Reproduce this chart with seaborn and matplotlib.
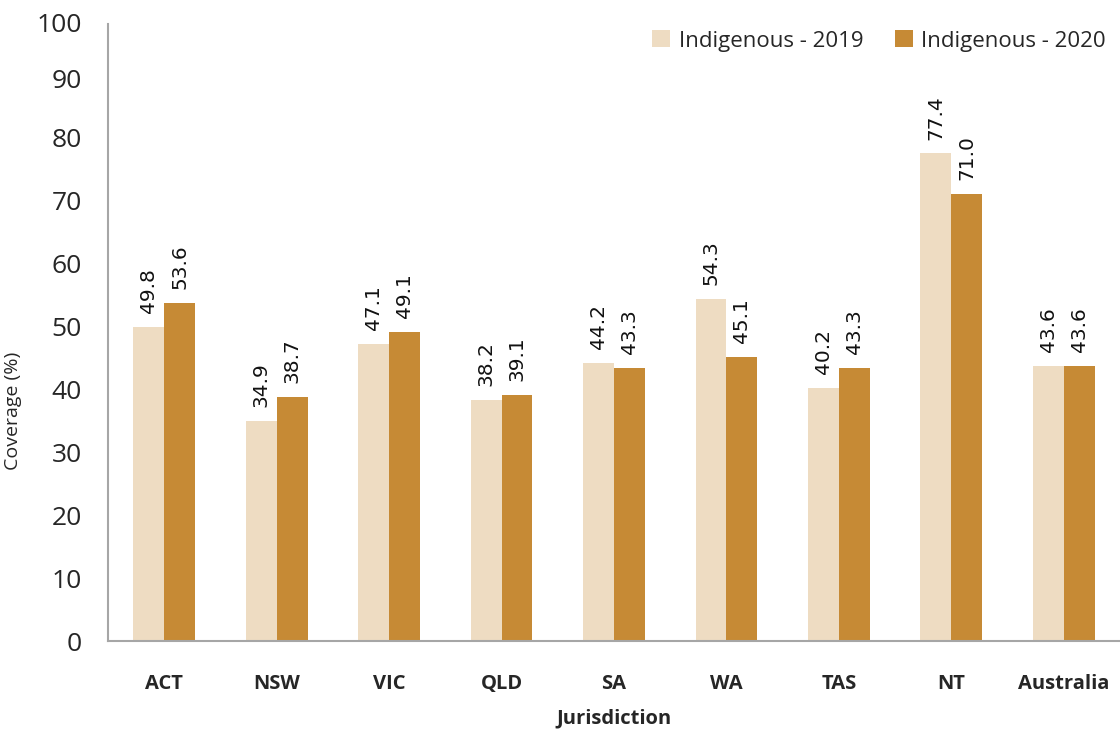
import matplotlib
matplotlib.use("Agg")
import matplotlib.pyplot as plt
import matplotlib.transforms as mtransforms
import seaborn as sns
import pandas as pd

categories = ["ACT", "NSW", "VIC", "QLD", "SA", "WA", "TAS", "NT", "Australia"]
values_2019 = [49.8, 34.9, 47.1, 38.2, 44.2, 54.3, 40.2, 77.4, 43.6]
values_2020 = [53.6, 38.7, 49.1, 39.1, 43.3, 45.1, 43.3, 71.0, 43.6]
series = ["Indigenous - 2019", "Indigenous - 2020"]
colors = ["#EEDCC2", "#C68A35"]

df = pd.DataFrame({
    "Jurisdiction": categories * 2,
    "Coverage": values_2019 + values_2020,
    "Series": [series[0]] * len(categories) + [series[1]] * len(categories),
})

sns.set_style("white")
plt.rcParams["font.family"] = ["Open Sans", "DejaVu Sans"]

fig = plt.figure(figsize=(11.2, 7.31), dpi=100)
ax = fig.add_axes([0.0964, 0.1231, 0.9036, 0.8618])

sns.barplot(data=df, x="Jurisdiction", y="Coverage", hue="Series",
            palette=colors, width=0.55, ax=ax, saturation=1, errorbar=None,
            linewidth=0)

for cont in ax.containers:
    labels = [f"{v:.1f}" for v in cont.datavalues]
    ax.bar_label(cont, labels=labels, rotation=90, padding=10, fontsize=14.5,
                 family="DejaVu Sans", color="#111111")

ax.set_ylim(0, 100)
ax.set_xlim(-0.5, len(categories) - 0.5)
ax.set_yticks(range(0, 101, 10))
ax.tick_params(axis="y", labelsize=19, length=0, pad=19)
ax.tick_params(axis="x", labelsize=14.5, length=0, pad=24)
for lbl in ax.get_xticklabels():
    lbl.set_fontweight("bold")

# nudge the top tick label down so it sits at the top of the spine
top_lbl = ax.get_yticklabels()[-1]
top_lbl.set_transform(top_lbl.get_transform() +
                      mtransforms.ScaledTranslation(0, -8 / 72, fig.dpi_scale_trans))
lbl90 = ax.get_yticklabels()[-2]
lbl90.set_transform(lbl90.get_transform() +
                    mtransforms.ScaledTranslation(0, -3 / 72, fig.dpi_scale_trans))

ax.set_xlabel("Jurisdiction", fontsize=14.5, fontweight="bold", labelpad=10)
ax.set_ylabel("Coverage (%)", fontsize=14)
ax.yaxis.set_label_coords(-0.085, 0.366)

for s in ["top", "right"]:
    ax.spines[s].set_visible(False)
for s in ["left", "bottom"]:
    ax.spines[s].set_color("#A6A6A6")
    ax.spines[s].set_linewidth(1.5)
ax.spines["left"].set_bounds(0, 98)

leg = ax.legend(loc="upper right", bbox_to_anchor=(1.0054, 0.9858),
                bbox_transform=fig.transFigure, ncol=2,
                frameon=False, fontsize=16, handlelength=0.8, handleheight=0.8,
                handletextpad=0.4, columnspacing=1.4)

fig.savefig("out.png", dpi=100)
